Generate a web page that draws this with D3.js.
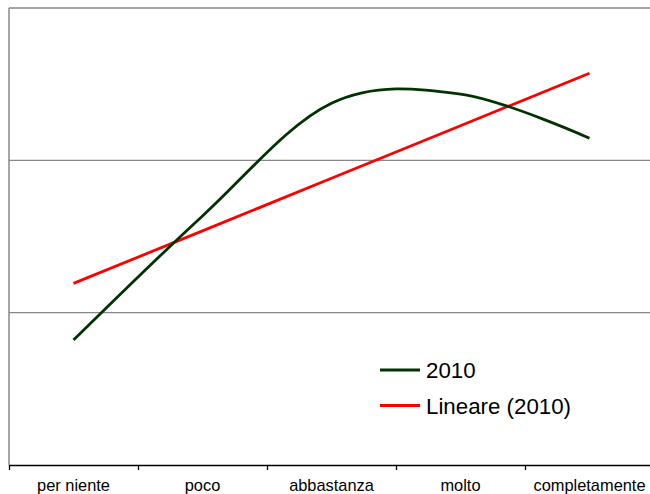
<!DOCTYPE html>
<html>
<head>
<meta charset="utf-8">
<script src="https://cdn.jsdelivr.net/npm/d3@7"></script>
<style>
  html, body { margin: 0; padding: 0; background: #fff; }
  svg { display: block; font-family: "Liberation Sans", Arial, sans-serif; }
</style>
</head>
<body>
<div id="chart"></div>
<script>
// categories and values of the 2010 series
const categories = ["per niente", "poco", "abbastanza", "molto", "completamente"];
const values2010 = [16.4, 32.7, 47.5, 48.7, 42.9];
const gridValues = [20, 40];
const legendLabels = ["2010", "Lineare (2010)"];

const width = 650, height = 494;
const margin = { top: 8, left: 9, bottom: 29 };
const plotRight = 654; // plot runs a bit past the window edge

const svg = d3.select("#chart").append("svg")
    .attr("width", width)
    .attr("height", height);

const xBand = d3.scaleBand()
    .domain(categories)
    .range([margin.left, plotRight])
    .padding(0);
const xEdge = d3.scaleLinear()
    .domain([0, categories.length])
    .range([margin.left, plotRight]);
const yScale = d3.scaleLinear()
    .domain([0, 60])
    .range([height - margin.bottom, margin.top]);

const cx = d => xBand(d) + xBand.bandwidth() / 2;

// gridlines
svg.append("g")
    .selectAll("line")
    .data(gridValues.concat([60]))
    .enter()
    .append("line")
    .attr("x1", margin.left)
    .attr("x2", plotRight)
    .attr("y1", d => yScale(d))
    .attr("y2", d => yScale(d))
    .attr("stroke", "#888")
    .attr("stroke-width", 1.3);

// left axis line
svg.append("line")
    .attr("x1", margin.left).attr("x2", margin.left)
    .attr("y1", yScale(60)).attr("y2", yScale(0))
    .attr("stroke", "#888")
    .attr("stroke-width", 1.5);

// bottom axis: ticks at the category boundaries
const edgeAxis = d3.axisBottom(xEdge)
    .tickValues(d3.range(categories.length + 1))
    .tickFormat("")
    .tickSize(5)
    .tickSizeOuter(0);
const gEdge = svg.append("g")
    .attr("transform", `translate(0, ${yScale(0)})`)
    .call(edgeAxis);
gEdge.select(".domain").attr("stroke", "#000").attr("stroke-width", 1.3);
gEdge.selectAll(".tick line").attr("stroke", "#000").attr("stroke-width", 1.3);

// category labels
const labelAxis = d3.axisBottom(xBand).tickSize(0).tickPadding(14);
const gLabels = svg.append("g")
    .attr("transform", `translate(0, ${yScale(0)})`)
    .call(labelAxis);
gLabels.select(".domain").remove();
gLabels.selectAll("text")
    .attr("font-family", "Liberation Sans, Arial, sans-serif")
    .attr("font-size", 16.4)
    .attr("fill", "#000");

// linear trend from least squares
const xs = values2010.map((v, i) => i + 1);
const mx = d3.mean(xs), my = d3.mean(values2010);
const slope = d3.sum(xs, (x, i) => (x - mx) * (values2010[i] - my)) / d3.sum(xs, x => (x - mx) * (x - mx));
const intercept = my - slope * mx;
const trend = xs.map(x => intercept + slope * x);

const line = d3.line()
    .x((d, i) => cx(categories[i]))
    .y(d => yScale(d));

svg.append("path")
    .attr("d", line.curve(d3.curveLinear)(trend))
    .attr("fill", "none")
    .attr("stroke", "#ff0000")
    .attr("stroke-width", 2.8);

svg.append("path")
    .attr("d", line.curve(d3.curveCardinal.tension(0))(values2010))
    .attr("fill", "none")
    .attr("stroke", "#003300")
    .attr("stroke-width", 2.8);

// legend
const legendColors = ["#003300", "#ff0000"];
const legend = svg.append("g").attr("transform", "translate(380, 370)");
legendLabels.forEach((label, i) => {
    const g = legend.append("g").attr("transform", `translate(0, ${i * 35.5})`);
    g.append("line")
        .attr("x1", 0).attr("x2", 40)
        .attr("stroke", legendColors[i])
        .attr("stroke-width", 2.8);
    g.append("text")
        .attr("x", 46)
        .attr("y", 8)
        .attr("font-size", 22.3)
        .attr("fill", "#000")
        .text(label);
});
</script>
</body>
</html>
